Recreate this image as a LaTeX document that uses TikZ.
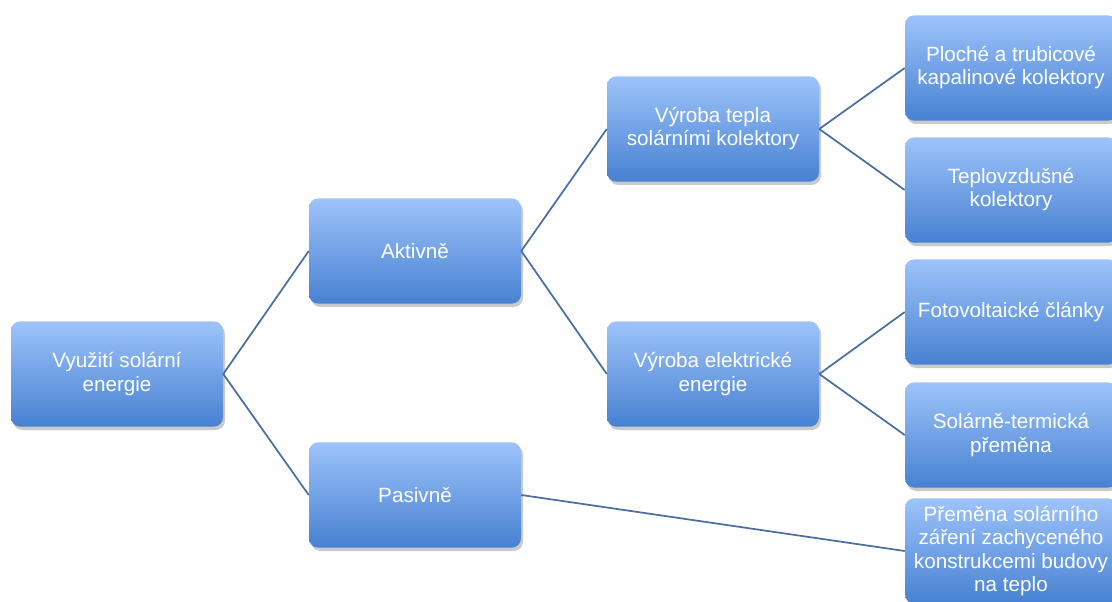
\documentclass[tikz,border=0pt]{standalone}
\usepackage{fontspec}
\setmainfont{Liberation Sans}
\usetikzlibrary{shadows}

\definecolor{boxtop}{HTML}{9DC3FA}
\definecolor{boxbottom}{HTML}{4781D2}
\definecolor{linkblue}{HTML}{4A6EA2}

\tikzset{
  box/.style={rectangle, rounded corners=7pt, top color=boxtop, bottom color=boxbottom,
    minimum width=159pt, minimum height=79pt, align=center, text=white,
    font=\fontsize{15.5}{17.3}\selectfont,
    drop shadow={shadow xshift=1.5pt, shadow yshift=-2.5pt, opacity=0.35, fill=black!60}},
  link/.style={draw=linkblue, line width=1.3pt}
}

\begin{document}
\begin{tikzpicture}[x=0.75pt, y=-0.75pt]
                        % Frame:
                        \useasboundingbox (0,0) rectangle (1112,602);

                        % Boxes:
                        \node[box] (root) at (117,374) {Využití solární\\energie};
                        \node[box] (active) at (415,251) {Aktivně};
                        \node[box] (passive) at (415,495) {Pasivně};
                        \node[box] (heat) at (713,129) {Výroba tepla\\solárními kolektory};
                        \node[box] (power) at (713,374) {Výroba elektrické\\energie};
                        \node[box] (flat) at (1011,68) {Ploché a trubicové\\kapalinové kolektory};
                        \node[box] (air) at (1011,190) {Teplovzdušné\\kolektory};
                        \node[box] (pv) at (1011,312) {Fotovoltaické články};
                        \node[box] (thermal) at (1011,435) {Solárně-termická\\přeměna};
                        \node[box] (build) at (1011,551) {Přeměna solárního\\záření zachyceného\\konstrukcemi budovy\\na teplo};

                        % Links:
                        \draw[link] (root.east) -- (active.west);
                        \draw[link] (root.east) -- (passive.west);
                        \draw[link] (active.east) -- (heat.west);
                        \draw[link] (active.east) -- (power.west);
                        \draw[link] (heat.east) -- (flat.west);
                        \draw[link] (heat.east) -- (air.west);
                        \draw[link] (power.east) -- (pv.west);
                        \draw[link] (power.east) -- (thermal.west);
                        \draw[link] (passive.east) -- (build.west);
                    \end{tikzpicture}
\end{document}
